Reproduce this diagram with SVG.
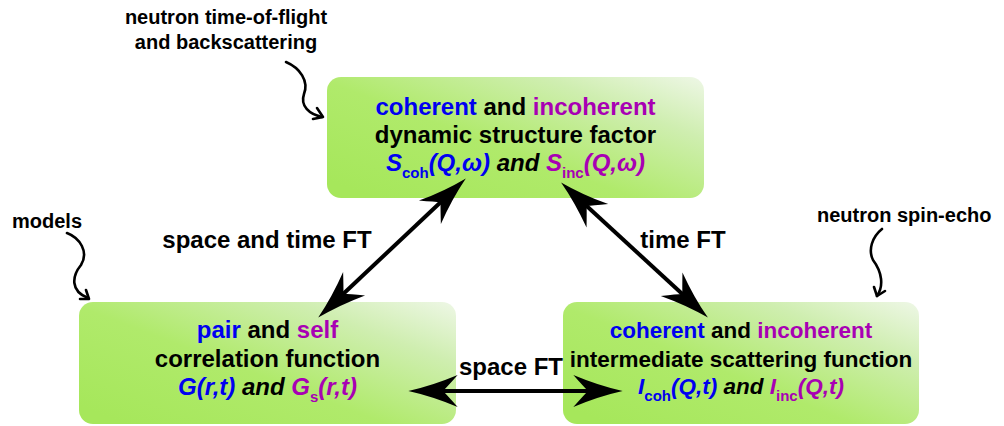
<svg xmlns="http://www.w3.org/2000/svg" width="1004" height="426" viewBox="0 0 1004 426">
  <style>
    text { font-family: "Liberation Sans", Arial, Helvetica, sans-serif; font-weight: bold; fill: #000; }
    .box { fill: url(#boxFill); }
    .mid { text-anchor: middle; }
    .big { font-size: 24px; }
    .med { font-size: 22.5px; }
    .note { font-size: 20px; }
    .coh { fill: #0000f0; }
    .inc { fill: #a800b4; }
    .it { font-style: italic; }
    .sub { font-size: 15px; font-style: normal; }
    .ft { stroke: #000; stroke-width: 4; fill: none; marker-start: url(#head); marker-end: url(#head); }
    .curl { stroke: #000; stroke-width: 2.6; fill: none; stroke-linecap: round; stroke-linejoin: round; }
  </style>
  <defs>
    <linearGradient id="boxFill" x1="0" y1="0.85" x2="1" y2="0">
      <stop offset="0" stop-color="#a6e75b"/>
      <stop offset="0.4" stop-color="#b0ea6b"/>
      <stop offset="0.75" stop-color="#cfeeb0"/>
      <stop offset="1" stop-color="#eef7e6"/>
    </linearGradient>
    <!-- long notched arrowhead; origin sits 20px behind the tip -->
    <marker id="head" markerUnits="userSpaceOnUse" markerWidth="60" markerHeight="40" viewBox="-20 -15 45 30" refX="0" refY="0" orient="auto-start-reverse" overflow="visible">
      <path d="M20,0 Q2,4 -17,12 Q-9,3 -6,0 Q-9,-3 -17,-12 Q2,-4 20,0 Z" fill="#000"/>
    </marker>
  </defs>

  <!-- dynamic structure factor -->
  <g id="node-sqw">
    <rect class="box" x="327" y="77" width="377" height="121" rx="14"/>
    <text class="big mid" x="515.5" y="115"><tspan class="coh">coherent</tspan> and <tspan class="inc">incoherent</tspan></text>
    <text class="big mid" x="515.5" y="143">dynamic structure factor</text>
    <text class="big mid it" x="515.5" y="171"><tspan class="coh">S</tspan><tspan class="coh sub" dy="7">coh</tspan><tspan class="coh" dy="-7">(Q,ω)</tspan> and <tspan class="inc">S</tspan><tspan class="inc sub" dy="7">inc</tspan><tspan class="inc" dy="-7">(Q,ω)</tspan></text>
  </g>

  <!-- correlation functions -->
  <g id="node-grt">
    <rect class="box" x="79" y="302" width="377" height="122" rx="14"/>
    <text class="big mid" x="267.5" y="338"><tspan class="coh">pair</tspan> and <tspan class="inc">self</tspan></text>
    <text class="big mid" x="267.5" y="367">correlation function</text>
    <text class="big mid it" x="267.5" y="395"><tspan class="coh">G(r,t)</tspan> and <tspan class="inc">G</tspan><tspan class="inc sub" dy="7">s</tspan><tspan class="inc" dy="-7">(r,t)</tspan></text>
  </g>

  <!-- intermediate scattering function -->
  <g id="node-iqt">
    <rect class="box" x="563" y="302" width="356" height="122" rx="14"/>
    <text class="med mid" x="741" y="338"><tspan class="coh">coherent</tspan> and <tspan class="inc">incoherent</tspan></text>
    <text class="med mid" x="741" y="367">intermediate scattering function</text>
    <text class="med mid it" x="741" y="394"><tspan class="coh">I</tspan><tspan class="coh sub" dy="7">coh</tspan><tspan class="coh" dy="-7">(Q,t)</tspan> and <tspan class="inc">I</tspan><tspan class="inc sub" dy="7">inc</tspan><tspan class="inc" dy="-7">(Q,t)</tspan></text>
  </g>

  <!-- Fourier-transform connectors, drawn over the boxes -->
  <g id="connectors">
    <line class="ft" x1="337.6" y1="299.3" x2="446.4" y2="196.7"/>
    <line class="ft" x1="580.7" y1="200.5" x2="688.3" y2="299.5"/>
    <line class="ft" x1="435" y1="391" x2="596" y2="391"/>
    <text class="big mid" x="267" y="248">space and time FT</text>
    <text class="big mid" x="683" y="248">time FT</text>
    <text class="big mid" x="511" y="375">space FT</text>
  </g>

  <!-- technique notes with hand-drawn pointers -->
  <g id="note-tof">
    <text class="note mid" x="226" y="24">neutron time-of-flight</text>
    <text class="note mid" x="226" y="49">and backscattering</text>
    <path class="curl" d="M286,62 C300,68 309,81 304,94 C300,106 309,114 322,117"/>
    <path class="curl" d="M317,108 L323,117 L313,119"/>
  </g>
  <g id="note-models">
    <text class="note" x="12" y="228">models</text>
    <path class="curl" d="M67,233 C80,238 89,252 81,265 C72,276 70,291 88,298"/>
    <path class="curl" d="M86,290 L89,299 L80,299"/>
  </g>
  <g id="note-nse">
    <text class="note" x="817" y="222">neutron spin-echo</text>
    <path class="curl" d="M882,229 C872,237 868,250 873,260 C882,272 884,286 877,296"/>
    <path class="curl" d="M874,287 L877,296 L885,291"/>
  </g>
</svg>
